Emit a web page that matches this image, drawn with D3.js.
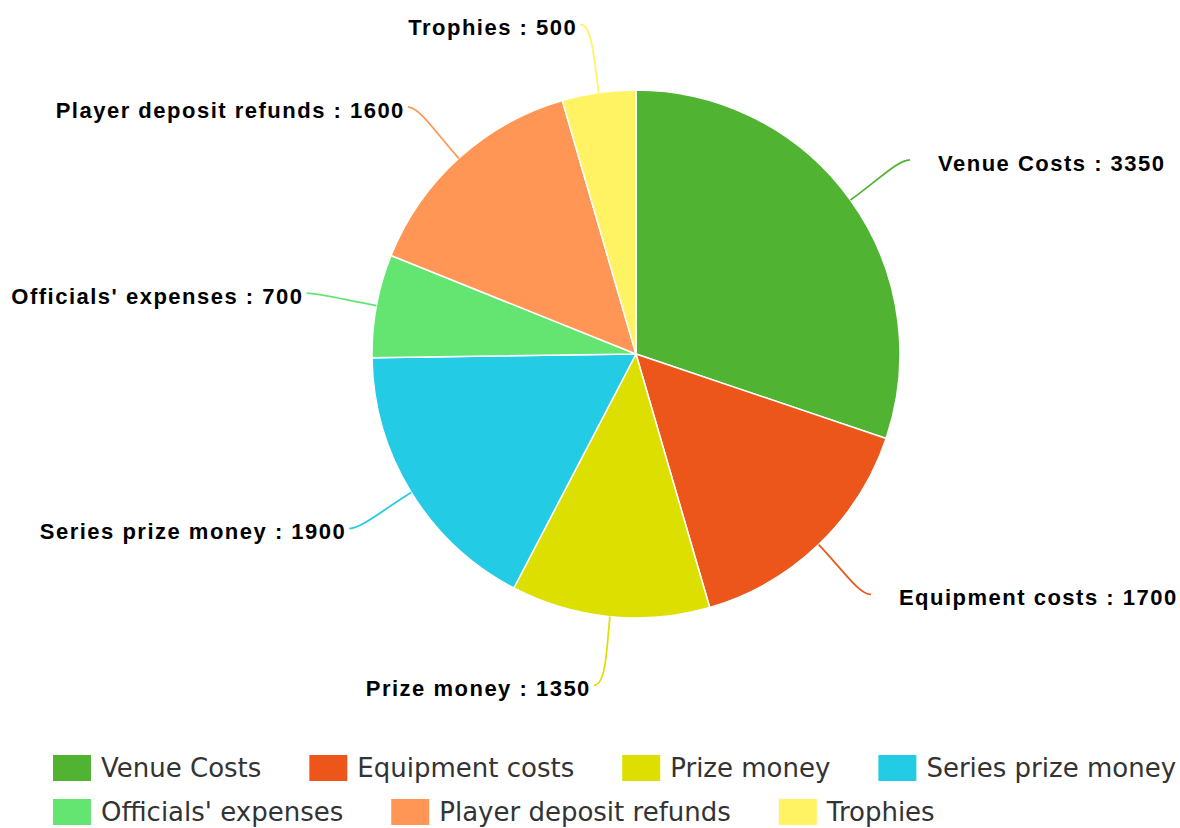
<!DOCTYPE html>
<html>
<head>
<meta charset="utf-8">
<script src="https://cdn.jsdelivr.net/npm/d3@7"></script>
<style>
  html, body { margin: 0; padding: 0; background: #fff; }
  svg { display: block; }
</style>
</head>
<body>
<svg id="chart" width="1180" height="828"></svg>
<script>
const categories = ["Venue Costs", "Equipment costs", "Prize money", "Series prize money", "Officials' expenses", "Player deposit refunds", "Trophies"];
const values = [3350, 1700, 1350, 1900, 700, 1600, 500];
const palette = ["#50B432", "#ED561B", "#DDDF00", "#24CBE5", "#64E572", "#FF9655", "#FFF263"];

const W = 1180, H = 828;
const cx = 636, cy = 354, r = 264;
const rBreak = r + 34;      // where the connector leaves the radial direction
const rEndX = 325, hook = 10, rEndY = 333;

const svg = d3.select("#chart");
const data = categories.map((c, i) => ({ name: c, value: values[i], color: palette[i] }));

const pie = d3.pie().sort(null).value(d => d.value).startAngle(0).endAngle(2 * Math.PI);
const arcs = pie(data);
const arc = d3.arc().innerRadius(0).outerRadius(r);

const g = svg.append("g").attr("transform", `translate(${cx},${cy})`);
g.selectAll("path.slice").data(arcs).join("path")
  .attr("class", "slice")
  .attr("d", arc)
  .attr("fill", d => d.data.color)
  .attr("stroke", "#fff")
  .attr("stroke-width", 1.5)
  .attr("stroke-linejoin", "round");

const pt = (a, R) => [R * Math.sin(a), -R * Math.cos(a)];

arcs.forEach(d => {
  const a = (d.startAngle + d.endAngle) / 2;
  const side = Math.sin(a) >= 0 ? 1 : -1;
  const t = pt(a, r);
  const b = pt(a, rBreak);
  const e = [side * (rEndX * Math.abs(Math.sin(a)) + hook), -rEndY * Math.cos(a)];
  const c2 = [e[0] - side * 12, e[1]];
  const p = d3.path();
  p.moveTo(t[0], t[1]);
  p.bezierCurveTo(b[0], b[1], c2[0], c2[1], e[0], e[1]);
  g.append("path")
    .attr("d", p.toString())
    .attr("fill", "none")
    .attr("stroke", d.data.color)
    .attr("stroke-width", 1.7);
  g.append("text")
    .attr("x", side > 0 ? e[0] + 28 : e[0] - 3)
    .attr("y", e[1] + 3)
    .attr("dy", "0.35em")
    .attr("text-anchor", side > 0 ? "start" : "end")
    .style("font-family", "'Liberation Sans', Arial, sans-serif")
    .style("font-weight", "bold")
    .style("font-size", "22px")
    .style("letter-spacing", "1.5px")
    .attr("fill", "#000")
    .text(`${d.data.name} : ${d.data.value}`);
});

// legend (flow layout)
const legend = svg.append("g");
const rowY = [768, 812];
let x = 53, row = 0;
const sq = 38, sqH = 26, gapText = 10, gapItem = 48, maxX = 1180;
data.forEach(d => {
  const item = legend.append("g");
  item.append("rect").attr("width", sq).attr("height", sqH).attr("fill", d.color);
  const txt = item.append("text")
    .attr("x", sq + gapText)
    .attr("y", sqH / 2)
    .attr("dy", "0.36em")
    .style("font-family", "'DejaVu Sans', sans-serif")
    .style("font-size", "26px")
    .attr("fill", "#333")
    .text(d.name);
  const w = sq + gapText + txt.node().getComputedTextLength();
  if (x + w > maxX && x > 53) { row++; x = 53; }
  item.attr("transform", `translate(${x},${rowY[row] - sqH / 2})`);
  x += w + gapItem;
});
</script>
</body>
</html>
